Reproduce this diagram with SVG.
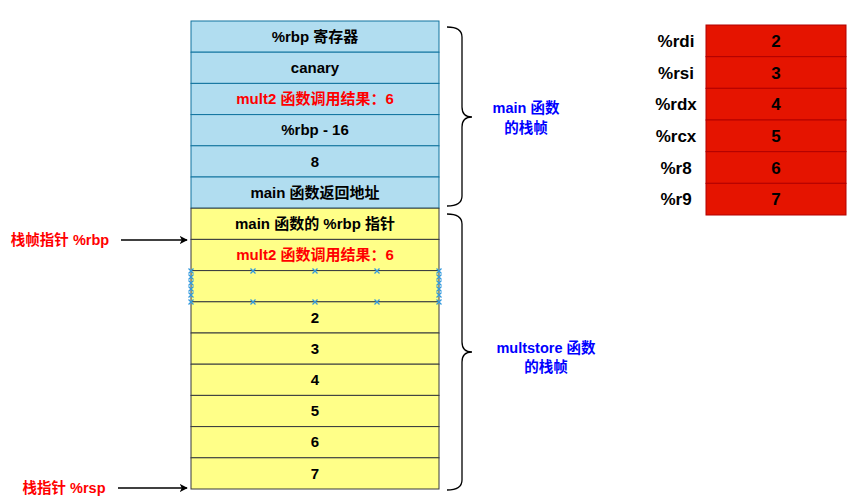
<svg xmlns="http://www.w3.org/2000/svg" width="861" height="500" viewBox="0 0 861 500">
<style>
text{font-family:"Liberation Sans","Noto Sans CJK SC",sans-serif;font-weight:bold;text-anchor:middle}
.t{font-size:15px;fill:#000}
.p{font-size:14.5px}
.r{fill:#ff0000}
.b{fill:#0000ff;font-size:14.5px}
.blue{fill:#b1ddf0;stroke:#10739e;stroke-width:1}
.yel{fill:#ffff88;stroke:#36393d;stroke-width:1}
.reg{fill:#e51400;stroke:#b20000;stroke-width:1}
.rl{font-size:17px}
.brace{fill:none;stroke:#000;stroke-width:1.3}
.x{stroke:#3399dd;stroke-width:1.2}
</style>
<defs>
<marker id="ah" viewBox="0 0 10 10" refX="9" refY="5" markerWidth="8" markerHeight="8" markerUnits="userSpaceOnUse" orient="auto">
<path d="M0,0 L10,5 L0,10 L2.5,5 Z" fill="#000"/>
</marker>
<g id="cx"><line class="x" x1="-2.5" y1="-2.5" x2="2.5" y2="2.5"/><line class="x" x1="-2.5" y1="2.5" x2="2.5" y2="-2.5"/></g>
</defs>
<rect width="861" height="500" fill="#fff"/>
<g id="stack">
<g id="s1"><rect class="blue" x="191" y="21" width="248" height="31.2"/><text class="t" x="315" y="41.8">%rbp 寄存器</text></g>
<g id="s2"><rect class="blue" x="191" y="52.2" width="248" height="31.2"/><text class="t" x="315" y="73">canary</text></g>
<g id="s3"><rect class="blue" x="191" y="83.4" width="248" height="31.2"/><text class="t r" x="315" y="104.2">mult2 函数调用结果：6</text></g>
<g id="s4"><rect class="blue" x="191" y="114.6" width="248" height="31.2"/><text class="t" x="315" y="135.4">%rbp - 16</text></g>
<g id="s5"><rect class="blue" x="191" y="145.8" width="248" height="31.2"/><text class="t" x="315" y="166.6">8</text></g>
<g id="s6"><rect class="blue" x="191" y="177" width="248" height="31.2"/><text class="t" x="315" y="197.8">main 函数返回地址</text></g>
<g id="s7"><rect class="yel" x="191" y="208.2" width="248" height="31.2"/><text class="t" x="315" y="229">main 函数的 %rbp 指针</text></g>
<g id="s8"><rect class="yel" x="191" y="239.4" width="248" height="31.2"/><text class="t r" x="315" y="260.2">mult2 函数调用结果：6</text></g>
<g id="s9"><rect class="yel" x="191" y="270.6" width="248" height="31.2"/></g>
<g id="s10"><rect class="yel" x="191" y="301.8" width="248" height="31.2"/><text class="t" x="315" y="322.6">2</text></g>
<g id="s11"><rect class="yel" x="191" y="333" width="248" height="31.2"/><text class="t" x="315" y="353.8">3</text></g>
<g id="s12"><rect class="yel" x="191" y="364.2" width="248" height="31.2"/><text class="t" x="315" y="385">4</text></g>
<g id="s13"><rect class="yel" x="191" y="395.4" width="248" height="31.2"/><text class="t" x="315" y="416.2">5</text></g>
<g id="s14"><rect class="yel" x="191" y="426.6" width="248" height="31.2"/><text class="t" x="315" y="447.4">6</text></g>
<g id="s15"><rect class="yel" x="191" y="457.8" width="248" height="31.2"/><text class="t" x="315" y="478.6">7</text></g>
</g>
<g id="handles">
<use href="#cx" x="191" y="271"/><use href="#cx" x="253" y="271"/><use href="#cx" x="315" y="271"/><use href="#cx" x="377" y="271"/><use href="#cx" x="439" y="271"/>
<use href="#cx" x="191" y="302"/><use href="#cx" x="253" y="302"/><use href="#cx" x="315" y="302"/><use href="#cx" x="377" y="302"/><use href="#cx" x="439" y="302"/>
<use href="#cx" x="191" y="277"/><use href="#cx" x="191" y="283"/><use href="#cx" x="191" y="289"/><use href="#cx" x="191" y="295"/>
<use href="#cx" x="439" y="277"/><use href="#cx" x="439" y="283"/><use href="#cx" x="439" y="289"/><use href="#cx" x="439" y="295"/>
</g>
<g id="braces">
<path class="brace" d="M447,27 Q462,27 462,37 L462,107 Q462,117 472,117 Q462,117 462,127 L462,196 Q462,206 447,206"/>
<path class="brace" d="M447,214 Q462,214 462,224 L462,342 Q462,352 472,352 Q462,352 462,362 L462,480 Q462,490 447,490"/>
</g>
<g id="frame-labels">
<text class="b" x="526" y="113">main 函数</text>
<text class="b" x="526" y="133">的栈帧</text>
<text class="b" x="546" y="353">multstore 函数</text>
<text class="b" x="546" y="372">的栈帧</text>
</g>
<g id="pointers">
<text class="p r" x="60" y="245">栈帧指针 %rbp</text>
<text class="p r" x="64" y="493">栈指针 %rsp</text>
</g>
<g id="connectors">
<line x1="121" y1="240" x2="187" y2="240" stroke="#000" stroke-width="1.3" marker-end="url(#ah)"/>
<line x1="118" y1="488" x2="187" y2="488" stroke="#000" stroke-width="1.3" marker-end="url(#ah)"/>
</g>
<g id="registers">
<g id="r1"><rect class="reg" x="706" y="25" width="140" height="31.67"/><text class="rl" x="676" y="47">%rdi</text><text class="rl" x="776" y="47">2</text></g>
<g id="r2"><rect class="reg" x="706" y="56.67" width="140" height="31.67"/><text class="rl" x="676" y="78.7">%rsi</text><text class="rl" x="776" y="78.7">3</text></g>
<g id="r3"><rect class="reg" x="706" y="88.33" width="140" height="31.67"/><text class="rl" x="676" y="110.3">%rdx</text><text class="rl" x="776" y="110.3">4</text></g>
<g id="r4"><rect class="reg" x="706" y="120" width="140" height="31.67"/><text class="rl" x="676" y="142">%rcx</text><text class="rl" x="776" y="142">5</text></g>
<g id="r5"><rect class="reg" x="706" y="151.67" width="140" height="31.67"/><text class="rl" x="676" y="173.7">%r8</text><text class="rl" x="776" y="173.7">6</text></g>
<g id="r6"><rect class="reg" x="706" y="183.33" width="140" height="31.67"/><text class="rl" x="676" y="205.3">%r9</text><text class="rl" x="776" y="205.3">7</text></g>
</g>
</svg>
